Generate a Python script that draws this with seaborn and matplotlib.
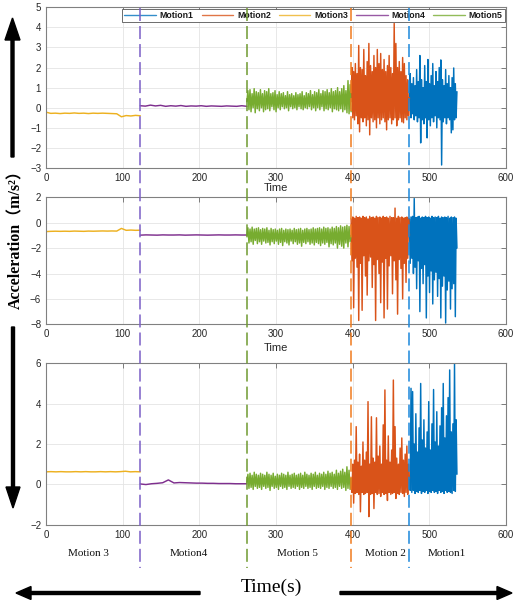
import numpy as np
import pandas as pd
import matplotlib
matplotlib.use("Agg")
import matplotlib.pyplot as plt
import matplotlib.transforms as mtransforms
from matplotlib.lines import Line2D
from matplotlib.patches import FancyArrow
import seaborn as sns

# ---------------- data ----------------
motions = ["Motion1", "Motion2", "Motion3", "Motion4", "Motion5"]
motion_colors = ["#0072BD", "#D95319", "#EDB120", "#7E2F8E", "#77AC30"]

# order of the motions along time and their boundaries (s)
seg_names = ["Motion3", "Motion4", "Motion5", "Motion2", "Motion1"]
seg_bounds = [0, 123, 262, 398, 474, 536]
boundary_colors = ["#7b5fc6", "#6f9a30", "#f07b1e", "#1b87db"]

label_names = ["Motion 3", "Motion4", "Motion 5", "Motion 2", "Motion1"]

# ---- panel 1 ----
top_m3 = [-0.22, -0.28, -0.27, -0.29, -0.27, -0.28, -0.26, -0.28, -0.27, -0.29, -0.27,
          -0.28, -0.27, -0.28, -0.29, -0.3, -0.45, -0.39, -0.41, -0.38, -0.4]
top_m4 = [0.1, 0.08, 0.13, 0.09, 0.12, 0.07, 0.1, 0.08, 0.11, 0.07, 0.09, 0.08, 0.1,
          0.07, 0.09, 0.08, 0.07, 0.09, 0.08, 0.07, 0.1, 0.07]
top_m5 = [0.3, 0.85, -0.1, 0.9, -0.2, 0.7, 0.0, 0.95, -0.25, 0.8, -0.05, 0.75, -0.15, 0.9,
          0.0, 0.7, -0.2, 0.85, -0.1, 0.8, -0.05, 0.95, -0.15, 0.7, 0.05, 0.75, -0.1, 0.85,
          -0.2, 0.65, 0.0, 0.8, -0.1, 0.7, 0.05, 0.75, -0.05, 0.6, 0.0, 0.8, -0.15, 0.65,
          0.05, 0.7, -0.05, 0.6, 0.0, 0.75, -0.1, 0.65, 0.05, 0.7, -0.05, 0.8, -0.1, 0.6,
          0.0, 0.75, -0.05, 0.7, 0.05, 0.85, -0.1, 0.65, 0.0, 0.8, -0.15, 0.75, 0.0, 0.9,
          -0.1, 0.7, 0.05, 0.85, -0.15, 0.8, -0.05, 0.9, -0.1, 0.75, 0.0, 0.95, -0.2, 0.8,
          -0.05, 0.85, -0.1, 1.0, -0.15, 0.8, -0.05, 0.95, -0.2, 1.1, -0.1, 0.85, -0.25,
          1.35, -0.3, 1.15, -0.2]
top_m2 = [0.3, 2.0, -0.5, 1.8, -0.6, 2.2, -0.4, 1.7, -0.8, 3.1, -1.2, 2.0, -0.5, 1.9, -0.7,
          2.9, -0.5, 1.6, -0.9, 2.3, -0.6, 3.2, -1.35, 2.1, -0.5, 1.8, -0.7, 2.6, -0.6, 2.0,
          -1.0, 2.9, -0.5, 2.2, -0.8, 2.7, -0.6, 1.9, -0.5, 2.4, -0.7, 1.8, -1.1, 2.1, -0.6,
          2.6, -0.5, 2.0, -0.8, 1.7, -0.6, 4.2, -0.5, 3.2, -0.9, 2.0, -0.6, 2.3, -0.5, 1.8,
          -0.7, 2.5, -0.75, 2.2, -0.5, 1.6, -0.6, 1.4, -0.4, 0.5]
top_m1 = [0.5, 1.7, -0.5, 1.2, -0.3, 1.5, -0.6, 1.1, -0.4, 1.9, -0.7, 1.3, -0.5, 2.6, -1.75,
          1.4, -0.6, 1.0, -0.8, 2.1, -0.5, 1.3, -1.5, 2.4, -0.6, 1.2, -0.9, 1.6, -0.5, 2.2,
          -0.7, 1.1, -0.4, 1.8, -1.0, 1.3, -0.5, 2.0, -0.6, 2.38, -2.85, 1.4, -0.7, 1.1, -0.5,
          1.9, -0.8, 1.2, -0.5, 1.6, -0.6, 1.0, -1.25, 1.5, -1.1, 1.98, -0.6, 1.2, -0.5, 0.8]

# ---- panel 2 ----
mid_m3 = [-0.7, -0.68, -0.67, -0.68, -0.67, -0.68, -0.66, -0.67, -0.68, -0.66, -0.67,
          -0.66, -0.65, -0.66, -0.65, -0.66, -0.45, -0.6, -0.58, -0.6, -0.59]
mid_m4 = [-0.98, -0.96, -0.97, -0.98, -0.96, -0.97, -0.97, -0.96, -0.98, -0.97, -0.96,
          -0.97, -0.98, -0.97, -0.96, -0.97, -0.97, -0.96, -0.97, -0.97]
mid_m5 = [-1.0, -0.4, -1.6, -0.5, -1.5, -0.35, -1.7, -0.5, -1.4, -0.45, -1.65, -0.4, -1.5,
          -0.55, -1.7, -0.45, -1.45, -0.5, -1.6, -0.4, -1.55, -0.6, -1.75, -0.45, -1.5, -0.55,
          -1.65, -0.5, -1.45, -0.6, -1.7, -0.5, -1.55, -0.45, -1.8, -0.6, -1.5, -0.5, -1.6,
          -0.55, -1.75, -0.5, -1.45, -0.6, -1.65, -0.45, -1.5, -0.55, -1.7, -0.5, -1.6, -0.45,
          -1.85, -0.6, -1.55, -0.5, -1.65, -0.45, -1.5, -0.55, -1.7, -0.5, -1.6, -0.4, -1.75,
          -0.5, -1.55, -0.45, -1.65, -0.4, -1.8, -0.5, -1.6, -0.35, -1.7, -0.45, -1.55, -0.4,
          -1.9, -0.5, -1.65, -0.35, -1.75, -0.45, -1.6, -0.3, -2.0, -0.4, -1.7, -0.25, -1.85,
          -0.35, -2.0, -0.3, -1.6, -0.2, -1.9, -0.3, -1.5, -1.0]
mid_m2 = [0.3, -3.0, 0.45, -6.7, 0.35, -2.8, 0.5, -3.5, 0.4, -7.7, 0.45, -3.2, 0.35, -6.9,
          0.5, -2.6, 0.4, -4.2, 0.45, -5.7, 0.3, -3.0, 0.5, -2.7, 0.4, -5.1, 0.45, -3.3, 0.35,
          -7.7, 0.5, -2.9, 0.4, -4.0, 0.45, -6.3, 0.35, -3.1, 0.5, -7.5, 0.4, -2.8, 0.45, -6.8,
          0.35, -3.4, 0.5, -2.6, 0.4, -5.6, 0.4, -3.0, 1.15, -4.5, 0.35, -7.2, 0.5, -2.9, 0.4,
          -3.6, 0.45, -6.0, 0.35, -3.2, 0.4, -4.7, 0.45, -2.8, 0.35, -1.0]
mid_m1 = [0.3, -3.2, 0.45, -2.8, 0.5, -4.0, 1.9, -3.5, 0.4, -5.2, 0.45, -3.0, 0.5, -7.0,
          0.35, -3.6, 0.45, -4.8, 0.4, -3.3, 0.5, -7.5, 0.4, -4.2, 0.45, -5.5, 0.35, -3.8, 0.5,
          -6.4, 0.4, -4.5, 0.45, -3.9, 0.4, -5.8, 0.5, -4.4, 0.35, -7.5, 0.45, -5.0, 0.4, -4.2,
          0.45, -7.9, 0.4, -5.3, 0.5, -4.6, 0.35, -6.8, 0.45, -5.2, 0.4, -4.8, 0.45, -7.4,
          0.35, -2.0]

# ---- panel 3 ----
bot_m3 = [0.62, 0.63, 0.62, 0.63, 0.62, 0.62, 0.63, 0.62, 0.63, 0.62, 0.62, 0.63, 0.62,
          0.63, 0.62, 0.63, 0.65, 0.62, 0.63, 0.62]
bot_m4 = [0.02, -0.01, 0.03, 0.05, 0.08, 0.22, 0.07, 0.09, 0.08, 0.07, 0.06, 0.06, 0.05,
          0.05, 0.04, 0.04, 0.04, 0.03, 0.03, 0.03]
bot_m5 = [0.1, 0.5, -0.2, 0.55, -0.15, 0.45, -0.25, 0.6, -0.1, 0.5, -0.2, 0.45, -0.15, 0.55,
          -0.25, 0.5, -0.1, 0.45, -0.2, 0.6, -0.15, 0.5, -0.3, 0.45, -0.1, 0.55, -0.2, 0.4,
          -0.15, 0.5, -0.25, 0.45, -0.1, 0.55, -0.2, 0.5, -0.15, 0.45, -0.25, 0.6, -0.1, 0.45,
          -0.2, 0.5, -0.15, 0.55, -0.2, 0.45, -0.1, 0.5, -0.25, 0.55, -0.15, 0.45, -0.2, 0.6,
          -0.1, 0.5, -0.2, 0.45, -0.15, 0.55, -0.25, 0.5, -0.1, 0.6, -0.2, 0.45, -0.15, 0.55,
          -0.2, 0.5, -0.1, 0.6, -0.25, 0.5, -0.15, 0.65, -0.2, 0.55, -0.1, 0.6, -0.2, 0.5,
          -0.15, 0.7, -0.25, 0.55, -0.1, 0.65, -0.2, 0.75, -0.15, 0.6, -0.3, 0.87, -0.2, 0.7,
          -0.25, 0.3]
bot_m2 = [0.3, -0.4, 1.0, -0.93, 1.2, -0.45, 2.86, -0.4, 1.1, -0.5, 1.5, -1.36, 0.9, -0.4,
          2.1, -0.5, 1.2, -0.45, 1.6, -0.4, 4.1, -1.6, 1.0, -0.5, 3.35, -0.45, 1.3, -1.2, 1.1,
          -0.4, 3.3, -0.5, 1.4, -0.45, 1.9, -0.6, 1.0, -0.4, 2.95, -0.5, 4.68, -0.45, 1.2,
          -0.8, 2.4, -0.4, 1.1, -0.5, 1.7, -0.45, 5.17, -0.4, 2.86, -0.7, 1.3, -0.45, 1.0,
          -0.5, 1.8, -0.4, 2.3, -0.45, 1.2, -0.6, 1.5, -0.4, 1.9, -0.5, 1.0, 0.3]
bot_m1 = [0.3, -0.3, 4.76, -0.4, 4.6, -0.3, 2.0, -0.45, 3.5, -0.35, 1.6, -0.4, 2.8, -0.3,
          5.0, -0.45, 2.2, -0.35, 3.2, -0.4, 1.8, -0.3, 2.6, -0.45, 4.1, -0.35, 1.7, -0.4,
          3.0, -0.3, 4.7, -0.4, 2.1, -0.35, 3.6, -0.45, 1.9, -0.3, 2.9, -0.4, 3.8, -0.35, 5.0,
          -0.45, 2.3, -0.3, 3.4, -0.4, 4.3, -0.35, 5.67, -0.4, 2.6, -0.45, 3.0, -0.3, 6.0,
          -0.35, 3.2, 0.5]

x_ticks = [0, 100, 200, 300, 400, 500, 600]
top_yticks = [-3, -2, -1, 0, 1, 2, 3, 4, 5]
mid_yticks = [-8, -6, -4, -2, 0, 2]
bot_yticks = [-2, 0, 2, 4, 6]

panels = [
    {"Motion3": top_m3, "Motion4": top_m4, "Motion5": top_m5, "Motion2": top_m2, "Motion1": top_m1},
    {"Motion3": mid_m3, "Motion4": mid_m4, "Motion5": mid_m5, "Motion2": mid_m2, "Motion1": mid_m1},
    {"Motion3": bot_m3, "Motion4": bot_m4, "Motion5": bot_m5, "Motion2": bot_m2, "Motion1": bot_m1},
]
panel_yticks = [top_yticks, mid_yticks, bot_yticks]


def panel_frame(series):
    parts = []
    for i, name in enumerate(seg_names):
        vals = series[name]
        t = np.linspace(seg_bounds[i], seg_bounds[i + 1], len(vals))
        parts.append(pd.DataFrame({"t": t, "acc": vals, "motion": name}))
    return pd.concat(parts, ignore_index=True)


# ---------------- figure ----------------
sns.set_theme(style="white")
plt.rcParams["font.family"] = ["Liberation Sans", "DejaVu Sans"]

W, H, DPI = 519, 600, 100
fig = plt.figure(figsize=(W / DPI, H / DPI), dpi=DPI)


def ax_rect(top_px, bottom_px, left_px=46, right_px=506):
    return [left_px / W, 1 - bottom_px / H, (right_px - left_px) / W, (bottom_px - top_px) / H]


rects = [ax_rect(7.3, 168.0), ax_rect(197.3, 324.3), ax_rect(363.3, 524.7)]
axes = [fig.add_axes(r) for r in rects]

for k, ax in enumerate(axes):
    df = panel_frame(panels[k])
    sns.lineplot(data=df, x="t", y="acc", hue="motion", hue_order=motions,
                 palette=motion_colors, estimator=None, sort=False, lw=1.05,
                 ax=ax, legend=(k == 0))
    yt = panel_yticks[k]
    ax.set_xlim(0, 600)
    ax.set_ylim(yt[0], yt[-1])
    ax.set_xticks(x_ticks)
    ax.set_yticks(yt)
    ax.grid(True, color="#e4e4e4", lw=0.6)
    ax.set_axisbelow(True)
    for sp in ax.spines.values():
        sp.set_color("#808080")
        sp.set_linewidth(0.8)
    ax.tick_params(direction="in", length=3.5, width=0.6, color="#6a6a6a",
                   labelsize=7, labelcolor="#262626", top=True, right=True, pad=3.5)
    ax.set_ylabel("")
    if k < 2:
        ax.set_xlabel("Time", fontsize=8, color="#262626", labelpad=(0 if k == 0 else 2.5))
    else:
        ax.set_xlabel("")

# legend in the first panel
handles, labels = axes[0].get_legend_handles_labels()
leg = axes[0].legend(handles, labels, ncol=5, loc="upper right", bbox_to_anchor=(1.0, 1.0),
                     fontsize=6.3, handlelength=3.6, handletextpad=0.45, columnspacing=0.9,
                     borderpad=0.25, borderaxespad=0.15, frameon=True, fancybox=False,
                     edgecolor="#555555", framealpha=1)
leg.get_frame().set_linewidth(0.6)
for ln in leg.get_lines():
    ln.set_linewidth(1.0)
    ln.set_alpha(0.8)
for txt in leg.get_texts():
    txt.set_color("#1a1a1a")
    txt.set_fontweight("semibold")

# pixel transform (x from left, y from top)
T = mtransforms.Affine2D().scale(1 / DPI, -1 / DPI).translate(0, H / DPI) + fig.dpi_scale_trans
xb = mtransforms.blended_transform_factory(axes[2].transData, T)

# dashed boundaries between motions
for b, c in zip(seg_bounds[1:5], boundary_colors):
    fig.add_artist(Line2D([b, b], [8, 568], transform=xb, color=c, lw=1.1,
                          dashes=(8.5, 3.3), zorder=10))

# motion labels
label_t = [55, 186, 328, 443, 523]
for name, tx in zip(label_names, label_t):
    fig.text(tx, 553, name, transform=xb, ha="center", va="center", fontsize=8,
             family=["Liberation Serif", "DejaVu Serif"], color="#111111")

# Time(s) with arrows
fig.text(271, 587, "Time(s)", transform=T, ha="center", va="center", fontsize=14,
         family=["Liberation Serif", "DejaVu Serif"], color="black")
arrow_kw = dict(width=3, length_includes_head=True, transform=T, color="black", zorder=5)
fig.add_artist(FancyArrow(200, 593, -184, 0, head_width=13, head_length=15, **arrow_kw))
fig.add_artist(FancyArrow(340, 593, 172, 0, head_width=13, head_length=15, **arrow_kw))

# Acceleration label with arrows
fig.text(16, 236, "Acceleration（m/s²）", transform=T, rotation=90, ha="center", va="center",
         fontsize=11.5, fontweight="bold",
         family=["Liberation Serif", "Noto Sans CJK SC"], color="black")
fig.add_artist(FancyArrow(12.5, 157, 0, -139, head_width=15, head_length=22, **arrow_kw))
fig.add_artist(FancyArrow(13, 327, 0, 181, head_width=14, head_length=21, **arrow_kw))

fig.savefig("out.png", dpi=DPI)
